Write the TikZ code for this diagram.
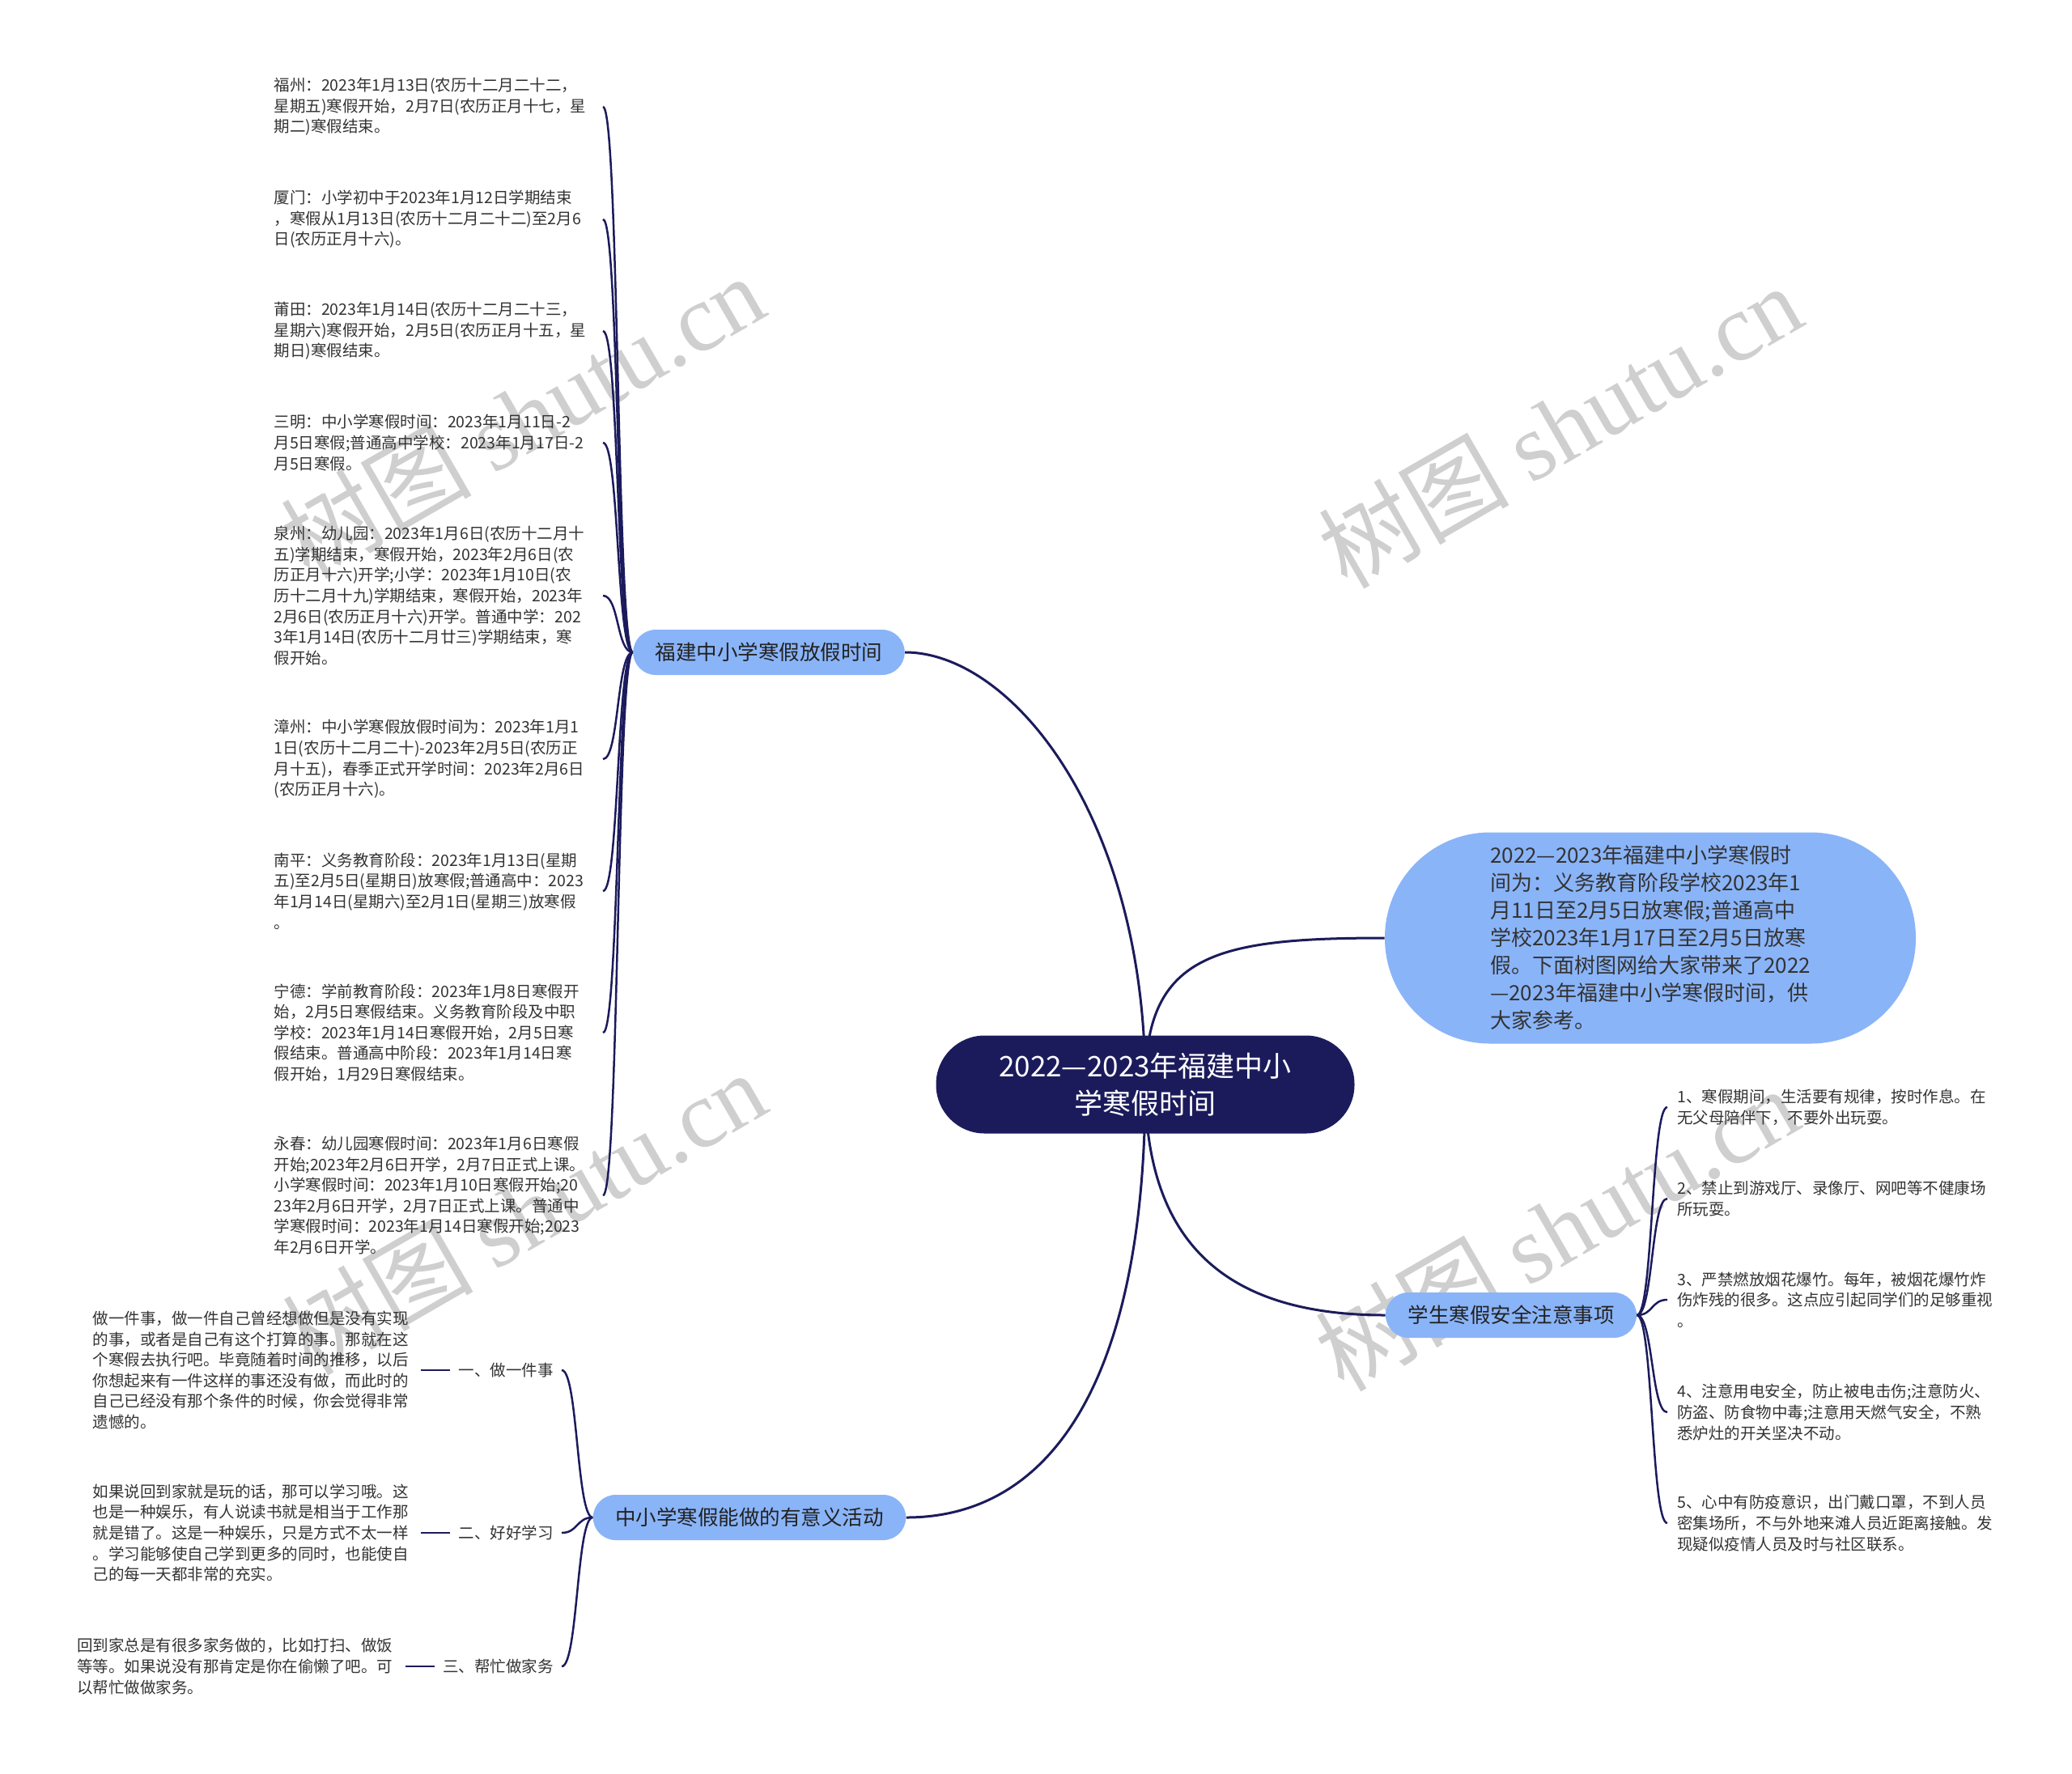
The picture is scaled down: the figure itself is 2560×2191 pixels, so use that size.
\documentclass[tikz,border=0pt]{standalone}
\usepackage{fontspec}
\setmainfont{Noto Sans CJK SC}
\newfontfamily\wmfont{Liberation Serif}
\definecolor{navy}{HTML}{1B1B5C}
\definecolor{nodeblue}{HTML}{8AB4F8}
\definecolor{txt}{HTML}{333333}
\definecolor{btxt}{HTML}{222222}
\pgfdeclarelayer{bg}
\pgfsetlayers{bg,main}
\begin{document}
\begin{tikzpicture}[x=0.5pt,y=-0.5pt,
  conn/.style={draw=navy, line width=1.5pt},
  brace/.style={draw=navy, line width=1.25pt},
  leafbase/.style={text=txt, font=\fontsize{9.75pt}{12.8pt}\selectfont, align=left, inner ysep=0pt},
  leafL/.style={leafbase, text width=196pt, inner xsep=7pt, anchor=east},
  leafR/.style={leafbase, text width=200pt, inner xsep=6pt, anchor=west},
  para/.style={leafbase, text width=196.5pt, inner xsep=6pt, anchor=east},
  lab/.style={leafbase, inner xsep=5pt, anchor=east},
  branch/.style={fill=nodeblue, text=btxt, rounded corners=14pt, minimum height=28pt, inner xsep=13.75pt, inner ysep=0pt, font=\fontsize{12.75pt}{15pt}\selectfont},
  central/.style={fill=navy, text=white, rounded corners=30pt, minimum width=258.5pt, minimum height=60.5pt, align=center, font=\fontsize{17.5pt}{23pt}\selectfont},
  summary/.style={fill=nodeblue, text=txt, rounded corners=65pt, minimum width=328pt, minimum height=130.5pt, align=left, font=\fontsize{13pt}{17pt}\selectfont},
  wm/.style={text=gray!38, font=\fontsize{59pt}{59pt}\selectfont, rotate=30, inner sep=0pt}
]
\useasboundingbox (0,0) rectangle (2560,2191);

% central and main branches
\node[central] (c) at (1415,1340) {2022—2023年福建中小\\学寒假时间};
\node[branch] (b1) at (950,806) {福建中小学寒假放假时间};
\node[branch] (b3) at (926,1875) {中小学寒假能做的有意义活动};
\node[branch] (b4) at (1867,1625) {学生寒假安全注意事项};
\node[summary] (s) at (2039,1159) {2022—2023年福建中小学寒假时\\间为：义务教育阶段学校2023年1\\月11日至2月5日放寒假;普通高中\\学校2023年1月17日至2月5日放寒\\假。下面树图网给大家带来了2022\\—2023年福建中小学寒假时间，供\\大家参考。};

% branch 1 leaves
\node[leafL] (l1) at (745,132) {福州：2023年1月13日(农历十二月二十二，\\星期五)寒假开始，2月7日(农历正月十七，星\\期二)寒假结束。};
\node[leafL] (l2) at (745,271) {厦门：小学初中于2023年1月12日学期结束\\，寒假从1月13日(农历十二月二十二)至2月6\\日(农历正月十六)。};
\node[leafL] (l3) at (745,409) {莆田：2023年1月14日(农历十二月二十三，\\星期六)寒假开始，2月5日(农历正月十五，星\\期日)寒假结束。};
\node[leafL] (l4) at (745,547) {三明：中小学寒假时间：2023年1月11日-2\\月5日寒假;普通高中学校：2023年1月17日-2\\月5日寒假。};
\node[leafL] (l5) at (745,736) {泉州：幼儿园：2023年1月6日(农历十二月十\\五)学期结束，寒假开始，2023年2月6日(农\\历正月十六)开学;小学：2023年1月10日(农\\历十二月十九)学期结束，寒假开始，2023年\\2月6日(农历正月十六)开学。普通中学：202\\3年1月14日(农历十二月廿三)学期结束，寒\\假开始。};
\node[leafL] (l6) at (745,938) {漳州：中小学寒假放假时间为：2023年1月1\\1日(农历十二月二十)-2023年2月5日(农历正\\月十五)，春季正式开学时间：2023年2月6日\\(农历正月十六)。};
\node[leafL] (l7) at (745,1101) {南平：义务教育阶段：2023年1月13日(星期\\五)至2月5日(星期日)放寒假;普通高中：2023\\年1月14日(星期六)至2月1日(星期三)放寒假\\。};
\node[leafL] (l8) at (745,1276) {宁德：学前教育阶段：2023年1月8日寒假开\\始，2月5日寒假结束。义务教育阶段及中职\\学校：2023年1月14日寒假开始，2月5日寒\\假结束。普通高中阶段：2023年1月14日寒\\假开始，1月29日寒假结束。};
\node[leafL] (l9) at (745,1477) {永春：幼儿园寒假时间：2023年1月6日寒假\\开始;2023年2月6日开学，2月7日正式上课。\\小学寒假时间：2023年1月10日寒假开始;20\\23年2月6日开学，2月7日正式上课。普通中\\学寒假时间：2023年1月14日寒假开始;2023\\年2月6日开学。};

% branch 3 labels and paragraphs
\node[lab] (g1) at (694,1693) {一、做一件事};
\node[lab] (g2) at (694,1894) {二、好好学习};
\node[lab] (g3) at (694,2059) {三、帮忙做家务};
\node[para] (p1) at ([xshift=-18pt]g1.west) {做一件事，做一件自己曾经想做但是没有实现\\的事，或者是自己有这个打算的事。那就在这\\个寒假去执行吧。毕竟随着时间的推移，以后\\你想起来有一件这样的事还没有做，而此时的\\自己已经没有那个条件的时候，你会觉得非常\\遗憾的。};
\node[para] (p2) at ([xshift=-18pt]g2.west) {如果说回到家就是玩的话，那可以学习哦。这\\也是一种娱乐，有人说读书就是相当于工作那\\就是错了。这是一种娱乐，只是方式不太一样\\。学习能够使自己学到更多的同时，也能使自\\己的每一天都非常的充实。};
\node[para] (p3) at ([xshift=-18pt]g3.west) {回到家总是有很多家务做的，比如打扫、做饭\\等等。如果说没有那肯定是你在偷懒了吧。可\\以帮忙做做家务。};

% branch 4 leaves
\node[leafR] (r1) at (2060,1368) {1、寒假期间，生活要有规律，按时作息。在\\无父母陪伴下，不要外出玩耍。};
\node[leafR] (r2) at (2060,1481) {2、禁止到游戏厅、录像厅、网吧等不健康场\\所玩耍。};
\node[leafR] (r3) at (2060,1606) {3、严禁燃放烟花爆竹。每年，被烟花爆竹炸\\伤炸残的很多。这点应引起同学们的足够重视\\。};
\node[leafR] (r4) at (2060,1745) {4、注意用电安全，防止被电击伤;注意防火、\\防盗、防食物中毒;注意用天燃气安全，不熟\\悉炉灶的开关坚决不动。};
\node[leafR] (r5) at (2060,1882) {5、心中有防疫意识，出门戴口罩，不到人员\\密集场所，不与外地来滩人员近距离接触。发\\现疑似疫情人员及时与社区联系。};

\begin{pgfonlayer}{bg}
\fill[white] (0,0) rectangle (2560,2191);
% watermarks
\node[wm] (w1) at (645,514) {树图 {\wmfont shutu.cn}};
\node[wm] (w2) at (1927,526) {树图 {\wmfont shutu.cn}};
\node[wm] (w3) at (647,1498) {树图 {\wmfont shutu.cn}};
\node[wm] (w4) at (1923,1518) {树图 {\wmfont shutu.cn}};
% main connectors
\draw[conn] (c.center) .. controls +(0,-330) and +(132,0) .. (b1.east);
\draw[conn] (c.center) .. controls +(0,-160) and +(-211,0) .. (s.west);
\draw[conn] (c.center) .. controls +(0,200) and +(-193,0) .. (b4.west);
\draw[conn] (c.center) .. controls +(0,360) and +(182,0) .. (b3.east);
% braces
\foreach \n in {l1,l2,l3,l4,l5,l6,l7,l8,l9}
  \draw[brace] (b1.west) .. controls +(-20,0) and +(20,0) .. (\n.east);
\foreach \n in {g1,g2,g3}
  \draw[brace] (b3.west) .. controls +(-20,0) and +(20,0) .. (\n.east);
\foreach \n in {r1,r2,r3,r4,r5}
  \draw[brace] (b4.east) .. controls +(20,0) and +(-20,0) .. (\n.west);
\draw[brace] (g1.west) -- (p1.east);
\draw[brace] (g2.west) -- (p2.east);
\draw[brace] (g3.west) -- (p3.east);
\end{pgfonlayer}
\end{tikzpicture}
\end{document}
